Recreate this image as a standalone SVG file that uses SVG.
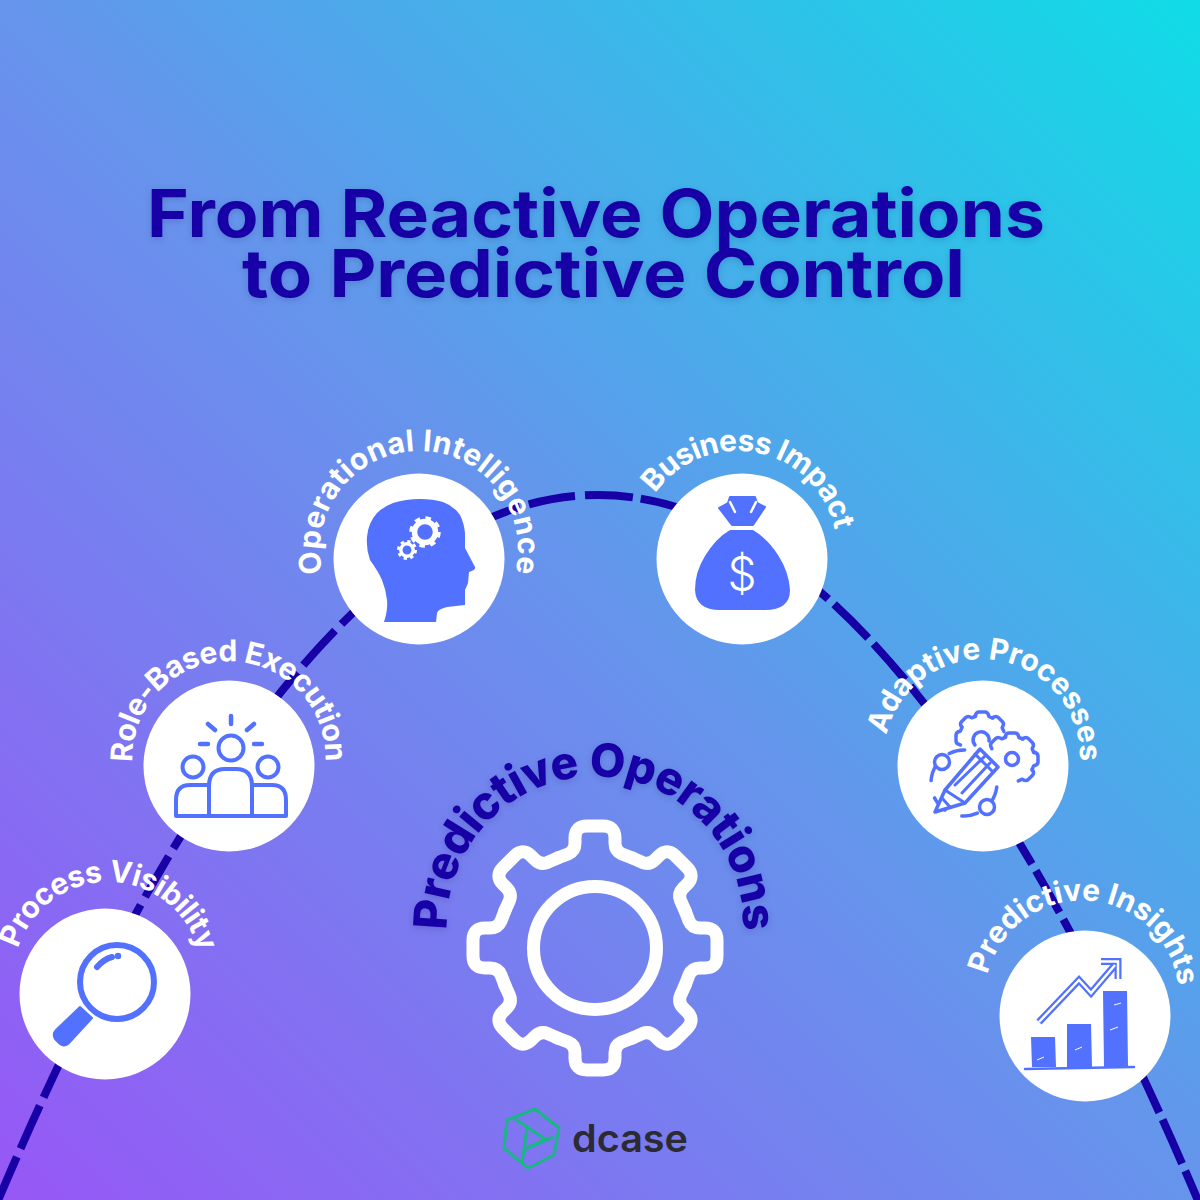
<svg xmlns="http://www.w3.org/2000/svg" width="1200" height="1200" viewBox="0 0 1200 1200">
<style>
.conn{fill:none;stroke:#1700a5;stroke-width:8}
.disc{fill:#fff}
.lab{font-family:Inter,"Liberation Sans",sans-serif;font-weight:700;font-size:30px;fill:#fff}
.title{font-family:Inter,"Liberation Sans",sans-serif;font-weight:700;font-size:66px;fill:#1700a5}
.ln{fill:none;stroke:#5271ff;stroke-linecap:round;stroke-linejoin:round}
.fl{fill:#5271ff}
.sh{filter:drop-shadow(0 2px 3px rgba(20,10,90,.18))}
</style>
<defs>
<linearGradient id="bg" x1="0" y1="1" x2="1" y2="0">
<stop offset="0" stop-color="#9757f6"/><stop offset=".5" stop-color="#6694ec"/><stop offset="1" stop-color="#0fdce6"/>
</linearGradient>
<path id="a1" d="M18.1 948.5A94 94 0 0 1 200.6 959.7" fill="none"/>
<path id="a2" d="M132.6 762A96.5 96.5 0 1 1 324 774.8" fill="none"/>
<path id="a3" d="M322.7 573.1A99 99 0 1 1 510.8 587.1" fill="none"/>
<path id="a4" d="M655.1 493.6A100 100 0 0 1 837 547.5" fill="none"/>
<path id="a5" d="M886.5 735A98 98 0 0 1 1078.5 774" fill="none"/>
<path id="a6" d="M987.6 974.9A97 97 0 0 1 1178.9 1000.4" fill="none"/>
<path id="a7" d="M447.1 930A148 148 0 1 1 740.8 949.7" fill="none"/>
<path id="gt" d="M-37.5 -90L-27 -94Q-20 -97 -20 -105V-110Q-20 -122 -8 -122H8Q20 -122 20 -110V-105Q20 -97 27 -94L37.5 -90" fill="none" stroke="#fff" stroke-width="13" stroke-linecap="round" stroke-linejoin="round"/>
<path id="st" d="M-7 -21.5Q-6 -26 -3 -26H3Q6 -26 7 -21.5L11 -20" class="ln" stroke-width="3.5"/>
</defs>
<rect width="1200" height="1200" fill="url(#bg)"/>
<g id="title" class="title sh">
<text x="147" y="237" textLength="898" lengthAdjust="spacingAndGlyphs">From Reactive Operations</text>
<text x="242" y="297" textLength="723" lengthAdjust="spacingAndGlyphs">to Predictive Control</text>
</g>
<g id="connectors">
<path class="conn" stroke-dasharray="47 9.2" d="M575 496.04Q282.5 522.4 -10 1219.5"/>
<path class="conn" stroke-dasharray="48 7.9" d="M585 495.33Q895.5 479.5 1206 1219.5"/>
</g>
<g id="node-process-visibility">
<circle class="disc" cx="105" cy="994" r="85.5"/>
<circle class="ln" cx="117" cy="982" r="37" stroke-width="6"/>
<path class="ln" d="M97 967Q104 959 112 957" stroke-width="6"/>
<circle class="fl" cx="118" cy="956" r="3.2"/>
<path class="fl" d="M80 1007L92 1018L68 1044Q64 1047 60 1044L55 1039Q52 1034 56 1030Z" stroke="#5271ff" stroke-width="2" stroke-linejoin="round"/>
<text class="lab"><textPath href="#a1" textLength="243">Process Visibility</textPath></text>
</g>
<g id="node-role-based-execution">
<circle class="disc" cx="229" cy="766" r="85.5"/>
<path class="ln" d="M231 716V724M208 724L215 730M254 724L247 730M200 744H208M254 744H262" stroke-width="4.5"/>
<circle class="ln" cx="231" cy="748" r="12.5" stroke-width="4"/>
<circle class="ln" cx="193" cy="767" r="10.5" stroke-width="4"/>
<circle class="ln" cx="268" cy="767" r="10.5" stroke-width="4"/>
<path class="ln" d="M209 816V786Q209 769 225 769H236Q252 769 252 786V816M209 785H190Q176 785 176 800V816H286V800Q286 785 272 785H252" stroke-width="4"/>
<text class="lab"><textPath href="#a2" textLength="311">Role-Based Execution</textPath></text>
</g>
<g id="node-operational-intelligence">
<circle class="disc" cx="419" cy="559" r="85.5"/>
<path class="fl" d="M384 622Q388 610 387 600Q386 590 382 580Q378 571 370 560Q366 549 367 537Q368 523 377 513Q383 507 393 503Q406 499 420 499Q433 499 443 502Q454 506 460 515Q464 523 465 533V548L475 567Q476 570 469 572L468 583L465 590V605L447 607Q438 609 437 613L436 622Z"/>
<circle cx="425" cy="532" r="10.5" fill="none" stroke="#fff" stroke-width="5.5"/>
<circle cx="425" cy="532" r="14" fill="none" stroke="#fff" stroke-width="3.5" stroke-dasharray="5.5 5.5"/>
<circle cx="407" cy="550" r="6.2" fill="none" stroke="#fff" stroke-width="3.5"/>
<circle cx="407" cy="550" r="8.5" fill="none" stroke="#fff" stroke-width="3" stroke-dasharray="3.3 3.37"/>
<text class="lab"><textPath href="#a3" textLength="357">Operational Intelligence</textPath></text>
</g>
<g id="node-business-impact">
<circle class="disc" cx="742" cy="559" r="85.5"/>
<path class="fl" d="M730 530Q716 538 705 556Q695 572 695 590Q696 610 720 610H765Q790 610 790 590Q789 572 778 555Q768 539 753 530Z"/>
<path class="fl" d="M730 497H755L757 503L765 507L753 525H732L719 508L728 503Z" stroke="#5271ff" stroke-width="2" stroke-linejoin="round"/>
<path d="M730 502L735 512M756 502L751 512" stroke="#fff" stroke-width="2.5" stroke-linecap="round" fill="none"/>
<text x="742" y="590" text-anchor="middle" font-family="Inter,'Liberation Sans',sans-serif" font-weight="300" font-size="46" fill="#fff">$</text>
<text class="lab"><textPath href="#a4" textLength="232">Business Impact</textPath></text>
</g>
<g id="node-adaptive-processes">
<circle class="disc" cx="983" cy="766" r="85.5"/>
<g transform="translate(982 738)"><use href="#st" transform="rotate(-90)"/><use href="#st" transform="rotate(-45)"/><use href="#st"/><use href="#st" transform="rotate(45)"/></g>
<path class="ln" d="M975 745A8 8 0 1 1 989 741" stroke-width="3.5"/>
<g transform="translate(1012 759)"><use href="#st" transform="rotate(-45)"/><use href="#st"/><use href="#st" transform="rotate(45)"/><use href="#st" transform="rotate(90)"/><use href="#st" transform="rotate(135)"/></g>
<circle class="ln" cx="1012" cy="759" r="6.5" stroke-width="3.5"/>
<circle class="ln" cx="964" cy="783" r="33" stroke-width="3.5" stroke-dasharray="16 18" stroke-dashoffset="-4" stroke-linecap="butt"/>
<circle class="ln" cx="942" cy="762" r="7.5" stroke-width="3.5" style="fill:#fff"/>
<circle class="ln" cx="987" cy="807" r="7.5" stroke-width="3.5" style="fill:#fff"/>
<path d="M935 812L945 790L980 749L998 767L965 803Z" fill="#fff" stroke="#5271ff" stroke-width="3.5" stroke-linejoin="round"/>
<path class="ln" d="M942 798L950 807M945 790L965 803M955 785L985 756M962 793L990 763M975 754L993 772" stroke-width="3"/>
<text class="lab"><textPath href="#a5" textLength="289">Adaptive Processes</textPath></text>
</g>
<g id="node-predictive-insights">
<circle class="disc" cx="1085" cy="1016" r="85.5"/>
<path class="fl" d="M1031 1037H1055L1056 1067H1032ZM1067 1024H1091L1092 1067H1067ZM1103 991H1127L1128 1067H1104Z"/>
<path d="M1025 1069L1134 1067" stroke="#5271ff" stroke-width="2.5" stroke-linecap="round"/>
<path d="M1037 1060L1044 1057M1075 1050L1082 1047M1110 1030L1118 1027M1114 1005L1121 1003" stroke="#fff" stroke-width="1"/>
<path d="M1039 1022L1079 980L1091 993L1115 965M1101 961.5H1118V979" fill="none" stroke="#5271ff" stroke-width="7" stroke-linejoin="miter"/>
<path d="M1039 1022L1079 980L1091 993L1115 965M1101 961.5H1118V979" fill="none" stroke="#fff" stroke-width="2.5"/>
<text class="lab"><textPath href="#a6" textLength="270">Predictive Insights</textPath></text>
</g>
<g id="node-predictive-operations">
<g transform="translate(595 948)">
<use href="#gt"/><use href="#gt" transform="rotate(45)"/><use href="#gt" transform="rotate(90)"/><use href="#gt" transform="rotate(135)"/><use href="#gt" transform="rotate(180)"/><use href="#gt" transform="rotate(225)"/><use href="#gt" transform="rotate(270)"/><use href="#gt" transform="rotate(315)"/>
<circle r="61.5" fill="none" stroke="#fff" stroke-width="13"/>
</g>
<text class="sh" font-family="Inter,'Liberation Sans',sans-serif" font-weight="800" font-size="46" fill="#1700a5"><textPath href="#a7" textLength="477">Predictive Operations</textPath></text>
</g>
<g id="logo">
<path d="M507 1120L535 1109L559 1128L554 1155L528 1168L504 1148ZM515 1119L545 1139L523 1150M527 1128L522 1163M553 1137L523 1150" fill="none" stroke="#18b884" stroke-width="3" stroke-linejoin="round"/>
<text x="572" y="1152" textLength="116" lengthAdjust="spacingAndGlyphs" font-family="Inter,'Liberation Sans',sans-serif" font-weight="600" font-size="38" fill="#2c2b33">dcase</text>
</g>
</svg>
